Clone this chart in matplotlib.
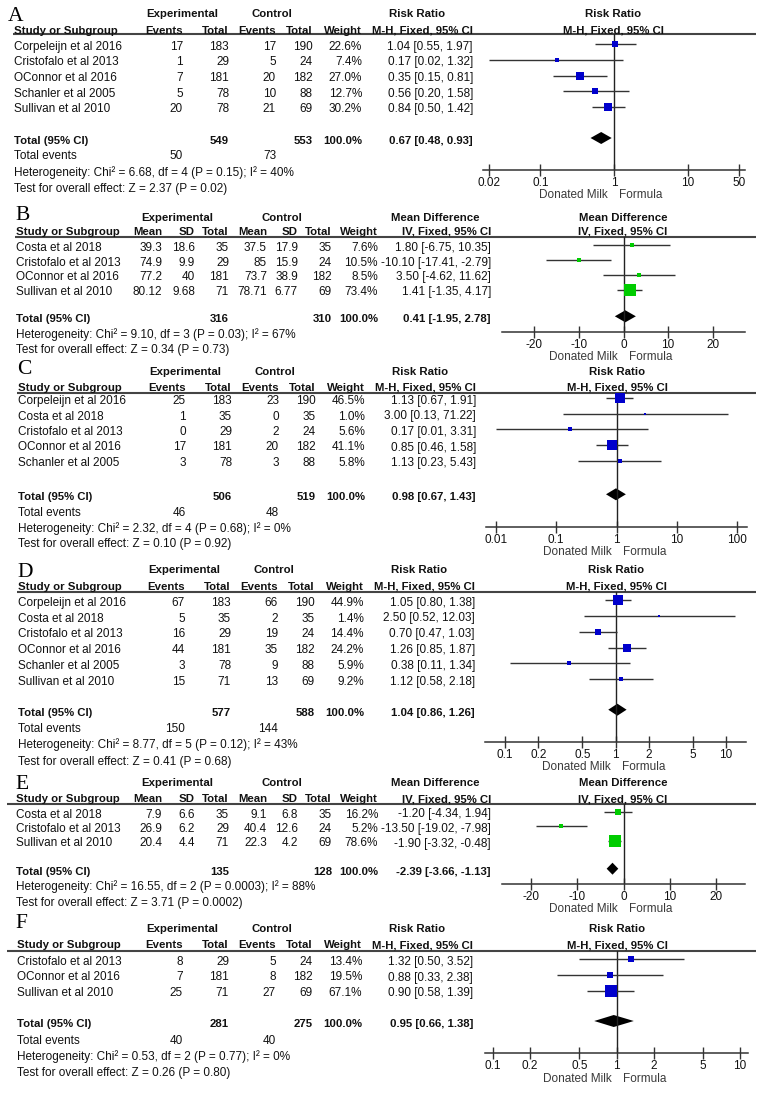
import matplotlib.pyplot as plt
from matplotlib.patches import Polygon

plt.rcParams['font.family'] = ['Liberation Sans', 'DejaVu Sans']

W, H = 765, 1095
FS = 8.5
FSB = 8.2
TXT = '#111111'
LINE = '#333333'
BLUE = '#0000cc'
GREEN = '#00cc00'

# ---------------- A : risk ratio ----------------
studies_a = ["Corpeleijn et al 2016", "Cristofalo et al 2013", "OConnor et al 2016",
             "Schanler et al 2005", "Sullivan et al 2010"]
exp_events_a = [17, 1, 7, 5, 20]
exp_total_a = [183, 29, 181, 78, 78]
ctl_events_a = [17, 5, 20, 10, 21]
ctl_total_a = [190, 24, 182, 88, 69]
weight_a = [22.6, 7.4, 27.0, 12.7, 30.2]
est_a = [1.04, 0.17, 0.35, 0.56, 0.84]
lo_a = [0.55, 0.02, 0.15, 0.20, 0.50]
hi_a = [1.97, 1.32, 0.81, 1.58, 1.42]
total_a = [549, 553, 0.67, 0.48, 0.93]
events_a = [50, 73]
het_a = ["6.68", "4", "0.15", "40"]
z_a = ["2.37", "0.02"]
ticks_a = [0.02, 0.1, 1, 10, 50]

# ---------------- B : mean difference ----------------
studies_b = ["Costa et al 2018", "Cristofalo et al 2013", "OConnor et al 2016", "Sullivan et al 2010"]
exp_mean_b = [39.3, 74.9, 77.2, 80.12]
exp_sd_b = [18.6, 9.9, 40, 9.68]
exp_total_b = [35, 29, 181, 71]
ctl_mean_b = [37.5, 85, 73.7, 78.71]
ctl_sd_b = [17.9, 15.9, 38.9, 6.77]
ctl_total_b = [35, 24, 182, 69]
weight_b = [7.6, 10.5, 8.5, 73.4]
est_b = [1.80, -10.10, 3.50, 1.41]
lo_b = [-6.75, -17.41, -4.62, -1.35]
hi_b = [10.35, -2.79, 11.62, 4.17]
total_b = [316, 310, 0.41, -1.95, 2.78]
het_b = ["9.10", "3", "0.03", "67"]
z_b = ["0.34", "0.73"]
ticks_b = [-20, -10, 0, 10, 20]

# ---------------- C : risk ratio ----------------
studies_c = ["Corpeleijn et al 2016", "Costa et al 2018", "Cristofalo et al 2013",
             "OConnor et al 2016", "Schanler et al 2005"]
exp_events_c = [25, 1, 0, 17, 3]
exp_total_c = [183, 35, 29, 181, 78]
ctl_events_c = [23, 0, 2, 20, 3]
ctl_total_c = [190, 35, 24, 182, 88]
weight_c = [46.5, 1.0, 5.6, 41.1, 5.8]
est_c = [1.13, 3.00, 0.17, 0.85, 1.13]
lo_c = [0.67, 0.13, 0.01, 0.46, 0.23]
hi_c = [1.91, 71.22, 3.31, 1.58, 5.43]
total_c = [506, 519, 0.98, 0.67, 1.43]
events_c = [46, 48]
het_c = ["2.32", "4", "0.68", "0"]
z_c = ["0.10", "0.92"]
ticks_c = [0.01, 0.1, 1, 10, 100]

# ---------------- D : risk ratio ----------------
studies_d = ["Corpeleijn et al 2016", "Costa et al 2018", "Cristofalo et al 2013",
             "OConnor et al 2016", "Schanler et al 2005", "Sullivan et al 2010"]
exp_events_d = [67, 5, 16, 44, 3, 15]
exp_total_d = [183, 35, 29, 181, 78, 71]
ctl_events_d = [66, 2, 19, 35, 9, 13]
ctl_total_d = [190, 35, 24, 182, 88, 69]
weight_d = [44.9, 1.4, 14.4, 24.2, 5.9, 9.2]
est_d = [1.05, 2.50, 0.70, 1.26, 0.38, 1.12]
lo_d = [0.80, 0.52, 0.47, 0.85, 0.11, 0.58]
hi_d = [1.38, 12.03, 1.03, 1.87, 1.34, 2.18]
total_d = [577, 588, 1.04, 0.86, 1.26]
events_d = [150, 144]
het_d = ["8.77", "5", "0.12", "43"]
z_d = ["0.41", "0.68"]
ticks_d = [0.1, 0.2, 0.5, 1, 2, 5, 10]

# ---------------- E : mean difference ----------------
studies_e = ["Costa et al 2018", "Cristofalo et al 2013", "Sullivan et al 2010"]
exp_mean_e = [7.9, 26.9, 20.4]
exp_sd_e = [6.6, 6.2, 4.4]
exp_total_e = [35, 29, 71]
ctl_mean_e = [9.1, 40.4, 22.3]
ctl_sd_e = [6.8, 12.6, 4.2]
ctl_total_e = [35, 24, 69]
weight_e = [16.2, 5.2, 78.6]
est_e = [-1.20, -13.50, -1.90]
lo_e = [-4.34, -19.02, -3.32]
hi_e = [1.94, -7.98, -0.48]
total_e = [135, 128, -2.39, -3.66, -1.13]
het_e = ["16.55", "2", "0.0003", "88"]
z_e = ["3.71", "0.0002"]
ticks_e = [-20, -10, 0, 10, 20]

# ---------------- F : risk ratio ----------------
studies_f = ["Cristofalo et al 2013", "OConnor et al 2016", "Sullivan et al 2010"]
exp_events_f = [8, 7, 25]
exp_total_f = [29, 181, 71]
ctl_events_f = [5, 8, 27]
ctl_total_f = [24, 182, 69]
weight_f = [13.4, 19.5, 67.1]
est_f = [1.32, 0.88, 0.90]
lo_f = [0.50, 0.33, 0.58]
hi_f = [3.52, 2.38, 1.39]
total_f = [281, 275, 0.95, 0.66, 1.38]
events_f = [40, 40]
het_f = ["0.53", "2", "0.77", "0"]
z_f = ["0.26", "0.80"]
ticks_f = [0.1, 0.2, 0.5, 1, 2, 5, 10]


fig = plt.figure(figsize=(W / 100, H / 100), dpi=100)
base = fig.add_axes([0, 0, 1, 1])
base.set_xlim(0, W)
base.set_ylim(H, 0)
base.axis('off')


def txt(x, y, s, ha='right', bold=False, **kw):
    base.text(x, y, s, ha=ha, va='center', fontsize=FSB if bold else FS,
              color=kw.pop('color', TXT), fontweight='bold' if bold else 'normal', **kw)


def fmt_ci(e, l, h):
    return f"{e:.2f} [{l:.2f}, {h:.2f}]"


def g(v):
    return f"{v:g}"


def panel(lay, kind, letter, studies, cols, weight, est, lo, hi, total, events,
          het, z, ticks):
    dx = lay['dx']
    sx = lay['sx']
    ys = [lay['row0'] + i * lay['step'] for i in range(len(studies))]
    rr = kind == 'rr'

    base.text(lay['lx'], lay['lb'], letter, ha='left', va='baseline', fontsize=15.5,
              family=['Liberation Serif'], color='#000000')

    if rr:
        colx = [183, 229, 276, 313, 362, 473]
        sub = ["Events", "Total", "Events", "Total", "Weight", "M-H, Fixed, 95% CI"]
        top = [(182, "Experimental"), (272, "Control"), (417, "Risk Ratio")]
        title, mcol = "Risk Ratio", BLUE
    else:
        colx = [162, 195, 229, 267, 298, 332, 378, 491]
        sub = ["Mean", "SD", "Total", "Mean", "SD", "Total", "Weight", "IV, Fixed, 95% CI"]
        top = [(177, "Experimental"), (282, "Control"), (435, "Mean Difference")]
        title, mcol = "Mean Difference", GREEN
    colx = [c + dx for c in colx]
    nc = len(cols) // 2

    # header
    for cx, s in top:
        txt(cx + dx, lay['h1'], s, ha='center', bold=True)
    txt(sx, lay['h2'], "Study or Subgroup", ha='left', bold=True)
    for cx, s in zip(colx, sub):
        txt(cx, lay['h2'], s, bold=True)
    txt(lay['null'], lay['h1'], title, ha='center', bold=True)
    txt(lay['null'], lay['h2'], sub[-1], ha='center', bold=True)
    base.plot([lay['ul0'], 756], [lay['ul'], lay['ul']], color='#444444', lw=1.5,
              solid_capstyle='butt')

    # study rows
    for i, y in enumerate(ys):
        txt(sx, y, studies[i], ha='left')
        for j, col in enumerate(cols):
            txt(colx[j], y, g(col[i]))
        txt(colx[-2], y, f"{weight[i]:.1f}%")
        txt(colx[-1], y, fmt_ci(est[i], lo[i], hi[i]))

    # totals
    ty = lay['total']
    txt(sx, ty, "Total (95% CI)", ha='left', bold=True)
    txt(colx[nc - 1], ty, str(total[0]), bold=True)
    txt(colx[2 * nc - 1], ty, str(total[1]), bold=True)
    txt(colx[-2], ty, "100.0%", bold=True)
    txt(colx[-1], ty, fmt_ci(total[2], total[3], total[4]), bold=True)
    if events is not None:
        txt(sx, lay['events'], "Total events", ha='left')
        txt(colx[0], lay['events'], str(events[0]))
        txt(colx[nc], lay['events'], str(events[1]))
    txt(sx, lay['het'], f"Heterogeneity: Chi\u00b2 = {het[0]}, df = {het[1]} "
                        f"(P = {het[2]}); I\u00b2 = {het[3]}%", ha='left')
    txt(sx, lay['test'], f"Test for overall effect: Z = {z[0]} (P = {z[1]})", ha='left')

    # forest plot
    l, r, ay, top_y = lay['axl'], lay['axr'], lay['axis'], lay['ul']
    ax = fig.add_axes([l / W, 1 - ay / H, (r - l) / W, (ay - top_y) / H])
    ax.patch.set_alpha(0)
    if rr:
        ax.set_xscale('log')
        ax.set_xlim(1 / lay['span'], lay['span'])
        nullv = 1
    else:
        ax.set_xlim(-lay['span'], lay['span'])
        nullv = 0
    ax.set_ylim(ay, top_y)
    for sp in ['top', 'left', 'right']:
        ax.spines[sp].set_visible(False)
    ax.spines['bottom'].set_color(LINE)
    ax.spines['bottom'].set_linewidth(1.1)
    ax.set_yticks([])
    ax.set_xticks(ticks)
    ax.set_xticklabels([g(t) for t in ticks])
    ax.minorticks_off()
    ax.tick_params(axis='x', direction='inout', length=8, width=1, colors=LINE,
                   labelcolor=TXT, labelsize=FS, pad=1)
    ax.axvline(nullv, color='#222222', lw=1)

    my = [y - 2.5 for y in ys]
    ax.hlines(my, lo, hi, color=LINE, lw=1)
    for i, y in enumerate(my):
        side = max(1.45 * weight[i] ** 0.5, 2.0)
        ax.plot(est[i], y, marker='s', ms=side * 0.72, color=mcol, mec=mcol, mew=0)
    dy = ty - 3
    ax.add_patch(Polygon([(total[3], dy), (total[2], dy - 6), (total[4], dy),
                          (total[2], dy + 6)], closed=True, color='#000000', lw=0))

    base.text(lay['null'] - 5, lay['lab'], "Donated Milk", ha='right', va='center',
              fontsize=FS, color='#3a3a3a')
    base.text(lay['null'] + 6, lay['lab'], "Formula", ha='left', va='center',
              fontsize=FS, color='#3a3a3a')


lay_a = dict(dx=0, sx=14, lx=8, lb=21, h1=14, h2=30.5, ul=34, ul0=13, row0=46.7, step=15.65,
             total=141, events=156, het=173, test=189, axis=170, axl=483, axr=745,
             null=613, span=60, lab=195)
lay_b = dict(dx=0, sx=16, lx=15, lb=220, h1=217.7, h2=231.7, ul=236.7, ul0=15, row0=248,
             step=14.7, total=319.3, het=335, test=350, axis=332, axl=502, axr=745,
             null=623, span=27.3, lab=357)
lay_c = dict(dx=3, sx=18, lx=17, lb=374, h1=371.7, h2=387.7, ul=393.3, ul0=17, row0=401,
             step=15.5, total=497.3, events=513.3, het=528.3, test=544.3, axis=526.7,
             axl=486, axr=747, null=617, span=146, lab=552)
lay_d = dict(dx=2, sx=18, lx=17, lb=577, h1=570, h2=586.5, ul=591.7, ul0=17, row0=602.7,
             step=15.8, total=712.7, events=729, het=745, test=761.7, axis=741.7,
             axl=485, axr=746, null=616, span=15.2, lab=767)
lay_e = dict(dx=0, sx=16, lx=15, lb=789, h1=783.3, h2=799, ul=804.3, ul0=7, row0=814.5,
             step=14.5, total=871.7, het=886.7, test=902.7, axis=884, axl=502, axr=745,
             null=623, span=26.4, lab=909)
lay_f = dict(dx=0, sx=17, lx=15, lb=928, h1=929.3, h2=945, ul=950.7, ul0=7, row0=961.7,
             step=15.8, total=1024, events=1041, het=1056.7, test=1072.7, axis=1053.3,
             axl=485, axr=748, null=617, span=11.6, lab=1079)

panel(lay_a, 'rr', "A", studies_a, [exp_events_a, exp_total_a, ctl_events_a, ctl_total_a],
      weight_a, est_a, lo_a, hi_a, total_a, events_a, het_a, z_a, ticks_a)
panel(lay_b, 'md', "B", studies_b,
      [exp_mean_b, exp_sd_b, exp_total_b, ctl_mean_b, ctl_sd_b, ctl_total_b],
      weight_b, est_b, lo_b, hi_b, total_b, None, het_b, z_b, ticks_b)
panel(lay_c, 'rr', "C", studies_c, [exp_events_c, exp_total_c, ctl_events_c, ctl_total_c],
      weight_c, est_c, lo_c, hi_c, total_c, events_c, het_c, z_c, ticks_c)
panel(lay_d, 'rr', "D", studies_d, [exp_events_d, exp_total_d, ctl_events_d, ctl_total_d],
      weight_d, est_d, lo_d, hi_d, total_d, events_d, het_d, z_d, ticks_d)
panel(lay_e, 'md', "E", studies_e,
      [exp_mean_e, exp_sd_e, exp_total_e, ctl_mean_e, ctl_sd_e, ctl_total_e],
      weight_e, est_e, lo_e, hi_e, total_e, None, het_e, z_e, ticks_e)
panel(lay_f, 'rr', "F", studies_f, [exp_events_f, exp_total_f, ctl_events_f, ctl_total_f],
      weight_f, est_f, lo_f, hi_f, total_f, events_f, het_f, z_f, ticks_f)

fig.savefig('out.png', dpi=100)
